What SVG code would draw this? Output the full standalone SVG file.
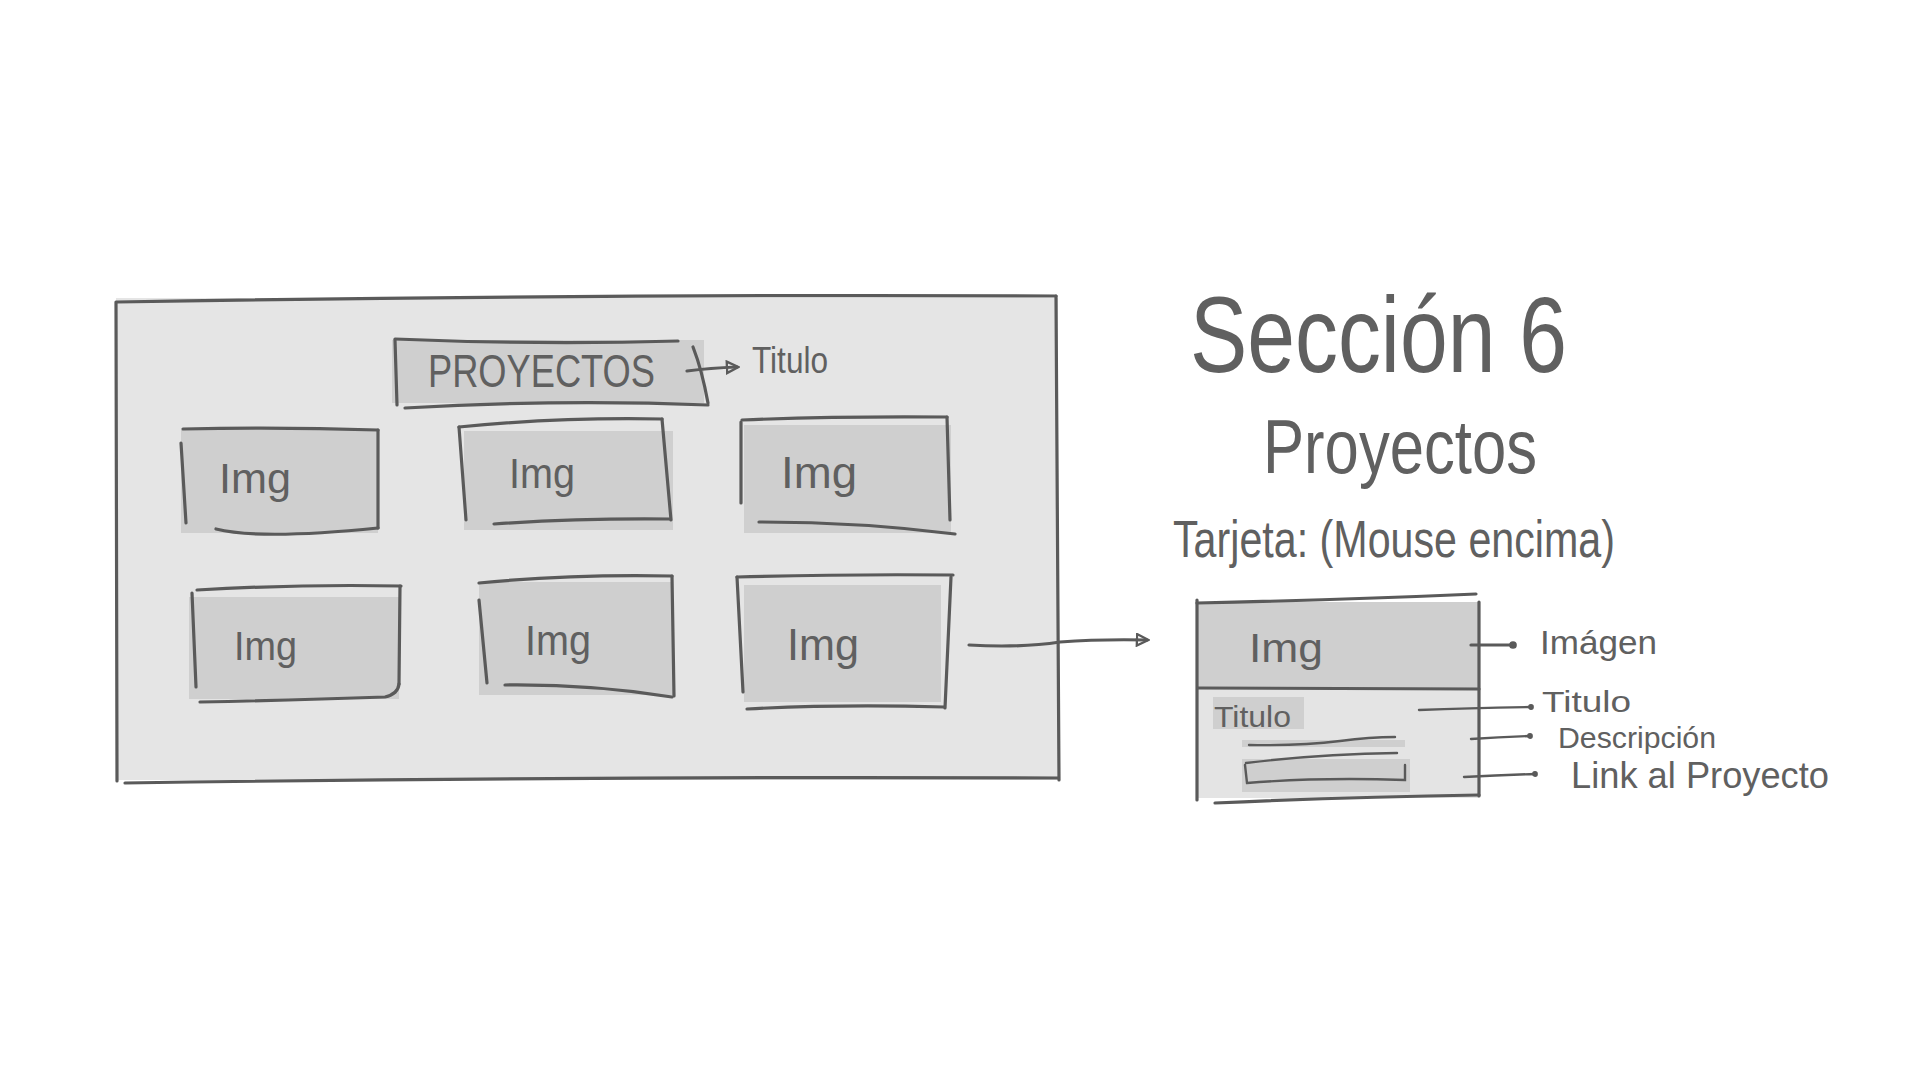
<svg xmlns="http://www.w3.org/2000/svg" width="1920" height="1080" viewBox="0 0 1920 1080">
<style>
.ln{fill:none;stroke:#5a5a5a;stroke-width:3.2;stroke-linecap:round;stroke-linejoin:round}
.thin{fill:none;stroke:#5a5a5a;stroke-width:2.4;stroke-linecap:round}
.frame{fill:#e5e5e5}
.box{fill:#cfcfcf}
.light{fill:#e4e4e4}
.t{font-family:"Liberation Sans","DejaVu Sans",sans-serif;fill:#606060}
</style>
<defs>
<marker id="ah" viewBox="0 0 10 10" refX="8" refY="5" markerWidth="4.5" markerHeight="4.5" orient="auto" markerUnits="strokeWidth">
<path d="M1,1 L9,5 L1,9 z" fill="none" stroke="#5a5a5a" stroke-width="1.6"/>
</marker>
<marker id="dot" viewBox="0 0 10 10" refX="5" refY="5" markerWidth="3" markerHeight="3" orient="auto" markerUnits="strokeWidth">
<circle cx="5" cy="5" r="4" fill="#5a5a5a"/>
</marker>
</defs>
<rect width="1920" height="1080" fill="#ffffff"/>

<g id="main-frame">
<rect class="frame" x="116" y="298" width="942" height="482"/>
<path class="ln" d="M117,302 Q580,294 1056,296"/>
<path class="ln" d="M116,302 L117,781"/>
<path class="ln" d="M1056,296 Q1058,540 1059,780"/>
<path class="ln" d="M125,783 Q600,776 1058,778"/>
</g>

<g id="title-box">
<rect class="box" x="392" y="340" width="312" height="63"/>
<path class="ln" d="M395,339 Q540,345 678,341"/>
<path class="ln" d="M395,340 L397,405"/>
<path class="ln" d="M693,347 Q702,370 708,403"/>
<path class="ln" d="M405,408 Q560,399 708,405"/>
<text class="t" x="428" y="387" font-size="46" textLength="227" lengthAdjust="spacingAndGlyphs">PROYECTOS</text>
</g>

<g id="img-1">
<rect class="box" x="181" y="430" width="197" height="103"/>
<path class="ln" d="M183,429 Q280,427 378,430"/>
<path class="ln" d="M181,443 L186,523"/>
<path class="ln" d="M378,430 L378,528"/>
<path class="ln" d="M216,529 Q260,540 378,528"/>
<text class="t" x="219" y="493" font-size="42" textLength="72" lengthAdjust="spacingAndGlyphs">Img</text>
</g>

<g id="img-2">
<rect class="box" x="464" y="431" width="209" height="99"/>
<path class="ln" d="M459,427 Q560,417 662,419"/>
<path class="ln" d="M459,427 L466,520"/>
<path class="ln" d="M662,419 L671,520"/>
<path class="ln" d="M494,524 Q580,518 670,519"/>
<text class="t" x="509" y="488" font-size="42" textLength="66" lengthAdjust="spacingAndGlyphs">Img</text>
</g>

<g id="img-3">
<rect class="box" x="744" y="425" width="207" height="108"/>
<path class="ln" d="M742,420 Q840,416 947,417"/>
<path class="ln" d="M741,422 L741,503"/>
<path class="ln" d="M947,417 L950,520"/>
<path class="ln" d="M759,522 Q860,522 955,534"/>
<text class="t" x="781" y="488" font-size="44" textLength="76" lengthAdjust="spacingAndGlyphs">Img</text>
</g>

<g id="img-4">
<rect class="box" x="189" y="597" width="210" height="102"/>
<path class="ln" d="M197,590 Q300,584 401,586"/>
<path class="ln" d="M192,593 L196,687"/>
<path class="ln" d="M400,586 L399,684"/>
<path class="ln" d="M200,702 Q300,700 385,697 Q398,694 399,684"/>
<text class="t" x="234" y="660" font-size="40" textLength="63" lengthAdjust="spacingAndGlyphs">Img</text>
</g>

<g id="img-5">
<rect class="box" x="479" y="582" width="194" height="113"/>
<path class="ln" d="M479,583 Q570,574 672,576"/>
<path class="ln" d="M479,600 L487,683"/>
<path class="ln" d="M672,576 L674,696"/>
<path class="ln" d="M505,685 Q590,684 672,697"/>
<text class="t" x="525" y="655" font-size="42" textLength="66" lengthAdjust="spacingAndGlyphs">Img</text>
</g>

<g id="img-6">
<rect class="box" x="744" y="585" width="197" height="117"/>
<path class="ln" d="M737,577 Q840,574 953,575"/>
<path class="ln" d="M737,577 L743,692"/>
<path class="ln" d="M951,577 L945,708"/>
<path class="ln" d="M747,709 Q840,704 944,707"/>
<text class="t" x="787" y="660" font-size="44" textLength="72" lengthAdjust="spacingAndGlyphs">Img</text>
</g>

<g id="titulo-label">
<text class="t" x="752" y="373" font-size="36" textLength="76" lengthAdjust="spacingAndGlyphs">Titulo</text>
</g>

<g id="heading">
<text class="t" x="1190" y="372" font-size="108" textLength="377" lengthAdjust="spacingAndGlyphs">Sección 6</text>
<text class="t" x="1263" y="473" font-size="76" textLength="274" lengthAdjust="spacingAndGlyphs">Proyectos</text>
<text class="t" x="1173" y="557" font-size="52" textLength="442" lengthAdjust="spacingAndGlyphs">Tarjeta: (Mouse encima)</text>
</g>

<g id="card">
<rect class="box" x="1197" y="602" width="282" height="87"/>
<rect class="light" x="1197" y="689" width="282" height="109"/>
<path class="ln" d="M1197,603 Q1340,600 1476,594"/>
<path class="ln" d="M1197,600 L1197,800"/>
<path class="ln" d="M1479,602 L1479,796"/>
<path class="ln" d="M1198,688 Q1340,688 1479,689"/>
<path class="ln" d="M1215,803 Q1350,797 1479,795"/>
<text class="t" x="1249" y="662" font-size="40" textLength="74" lengthAdjust="spacingAndGlyphs">Img</text>
<rect class="box" x="1213" y="697" width="91" height="32"/>
<text class="t" x="1214" y="727" font-size="30" textLength="77" lengthAdjust="spacingAndGlyphs">Titulo</text>
<rect class="box" x="1242" y="740" width="163" height="7"/>
<path class="thin" d="M1249,745 Q1300,746 1340,741 Q1370,737 1395,737"/>
<rect class="box" x="1242" y="759" width="168" height="33"/>
<path class="thin" d="M1246,763 Q1320,754 1397,753"/>
<path class="thin" d="M1245,765 L1247,783 Q1320,777 1405,780 L1405,765"/>
</g>

<g id="card-labels">
<text class="t" x="1540" y="654" font-size="34" textLength="117" lengthAdjust="spacingAndGlyphs">Imágen</text>
<text class="t" x="1542" y="712" font-size="30" textLength="89" lengthAdjust="spacingAndGlyphs">Titulo</text>
<text class="t" x="1558" y="748" font-size="29" textLength="158" lengthAdjust="spacingAndGlyphs">Descripción</text>
<text class="t" x="1571" y="788" font-size="36" textLength="258" lengthAdjust="spacingAndGlyphs">Link al Proyecto</text>
</g>

<g id="connectors">
<path class="ln" d="M687,371 Q710,368 737,367" marker-end="url(#ah)"/>
<path class="ln" d="M969,645 Q1020,648 1060,642 Q1100,639 1147,640" marker-end="url(#ah)"/>
<path class="ln" d="M1471,645 L1513,645" marker-end="url(#dot)"/>
<path class="thin" d="M1419,710 Q1470,708 1531,707" marker-end="url(#dot)"/>
<path class="thin" d="M1471,739 Q1500,737 1530,736" marker-end="url(#dot)"/>
<path class="thin" d="M1464,777 Q1500,775 1535,774" marker-end="url(#dot)"/>
</g>
</svg>
